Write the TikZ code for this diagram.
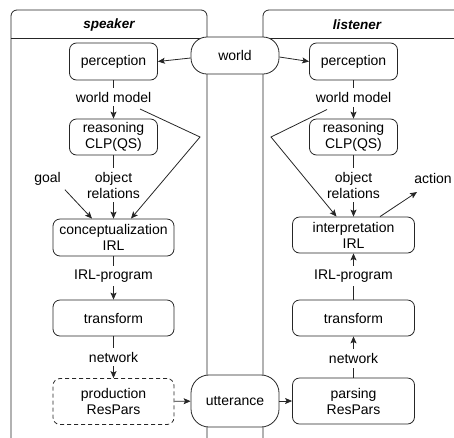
\documentclass[tikz,border=0pt]{standalone}
\usepackage{fontspec}
\setmainfont{Liberation Sans}
\usetikzlibrary{arrows.meta,calc}
\begin{document}
\begin{tikzpicture}[x=1pt,y=-1pt,
  every node/.style={font=\fontsize{14}{16}\selectfont},
  ln/.style={line width=0.8pt, draw=black!85},
  arr/.style={ln, -{Stealth[length=7pt,width=6pt,inset=1.5pt]}},
  box/.style={ln, draw, rounded corners=7pt, fill=white, align=center, inner sep=0pt},
  sbox/.style={box, minimum width=88pt, minimum height=37pt},
  wbox/.style={box, minimum width=121pt, minimum height=37pt},
  tbox/.style={box, minimum width=121pt, minimum height=46pt},
  term/.style={box, minimum width=88pt, rounded corners=16pt},
  lbl/.style={align=center, inner sep=4pt},
  lane/.style={ln, rounded corners=6pt},
  lanetitle/.style={font=\fontsize{13.5}{16}\selectfont\bfseries\itshape}
]
\useasboundingbox (0,0) rectangle (454,437);
% swimlanes
\draw[lane] (11,438) -- (11,10) -- (207,10) -- (207,438);
\draw[ln] (11,38.5) -- (207,38.5);
\node[lanetitle] (spk) at (109,25) {speaker};
\draw[lane] (263,438) -- (263,10) -- (470,10);
\draw[ln] (263,38.5) -- (455,38.5);
\node[lanetitle] (lis) at (357,25) {listener};

% shared nodes
\node[term, minimum height=37pt] (world) at (235,55.5) {world};
\node[term, minimum height=52pt, rounded corners=18pt] (utt) at (235,401) {utterance};

% speaker
\node[sbox] (sp) at (113.5,61.5) {perception};
\node[sbox, minimum height=36pt] (sr) at (113.5,137) {reasoning\\CLP(QS)};
\node[wbox] (sc) at (113.5,237.5) {conceptualization\\IRL};
\node[wbox, minimum height=36pt] (st) at (113.5,318) {transform};
\node[tbox, dash pattern=on 4pt off 3pt] (spr) at (113.5,401.5) {production\\ResPars};

\node[lbl] (swm) at (113.5,97) {world model};
\node[lbl] (sor) at (113.5,185) {object\\relations};
\node[lbl] (sirl) at (113.5,276) {IRL-program};
\node[lbl] (snet) at (113.5,357) {network};
\node[lbl] (goal) at (47.5,179) {goal};

% listener
\node[sbox] (lp) at (353.5,61.5) {perception};
\node[sbox, minimum height=36pt] (lr) at (353.5,137) {reasoning\\CLP(QS)};
\node[wbox, minimum width=122pt, minimum height=36pt] (li) at (353.5,235) {interpretation\\IRL};
\node[wbox, minimum width=122pt, minimum height=36pt] (lt) at (353.5,318) {transform};
\node[tbox, minimum width=122pt] (lpa) at (353.5,401) {parsing\\ResPars};

\node[lbl] (lwm) at (353.5,97.5) {world model};
\node[lbl] (lor) at (353.5,185) {object\\relations};
\node[lbl] (lirl) at (353.5,276) {IRL-program};
\node[lbl] (lnet) at (353.5,358.5) {network};
\node[lbl] (action) at (433,178) {action};

% speaker connectors
\draw[arr] ([yshift=-2.5pt]world.west) -- (sp.east);
\draw[ln] (sp) -- (swm); \draw[arr] (swm) -- (sr);
\draw[ln] (sr) -- (sor); \draw[arr] (sor) -- (sc);
\draw[ln] (sc) -- (sirl); \draw[arr] (sirl) -- (st);
\draw[ln] (st) -- (snet); \draw[arr] (snet) -- (spr);
\draw[arr] (goal.south east) -- ($(sc.north)+(-21.5,0)$);
\coordinate (swmA) at (140,109);
\coordinate (swmB) at (200,137);
\draw[arr] (swmA) -- (swmB) -- ($(sc.north)+(17.5,0)$);
\draw[arr] (spr) -- (utt);

% listener connectors
\draw[arr] ([yshift=-1.5pt]world.east) -- (lp.west);
\draw[ln] (lp) -- (lwm); \draw[arr] (lwm) -- (lr);
\draw[ln] (lr) -- (lor); \draw[arr] (lor) -- (li);
\draw[ln] (lt) -- (lirl); \draw[arr] (lirl) -- (li);
\draw[ln] (lpa) -- (lnet); \draw[arr] (lnet) -- (lt);
\draw[arr] (utt) -- (lpa);
\coordinate (lwmA) at (327,109.5);
\coordinate (lwmB) at (271,137);
\draw[arr] (lwmA) -- (lwmB) -- ($(li.north)+(-17,0)$);
\coordinate (actend) at (417,192);
\draw[arr] ($(li.north)+(26.5,0)$) -- (actend);
\end{tikzpicture}
\end{document}
